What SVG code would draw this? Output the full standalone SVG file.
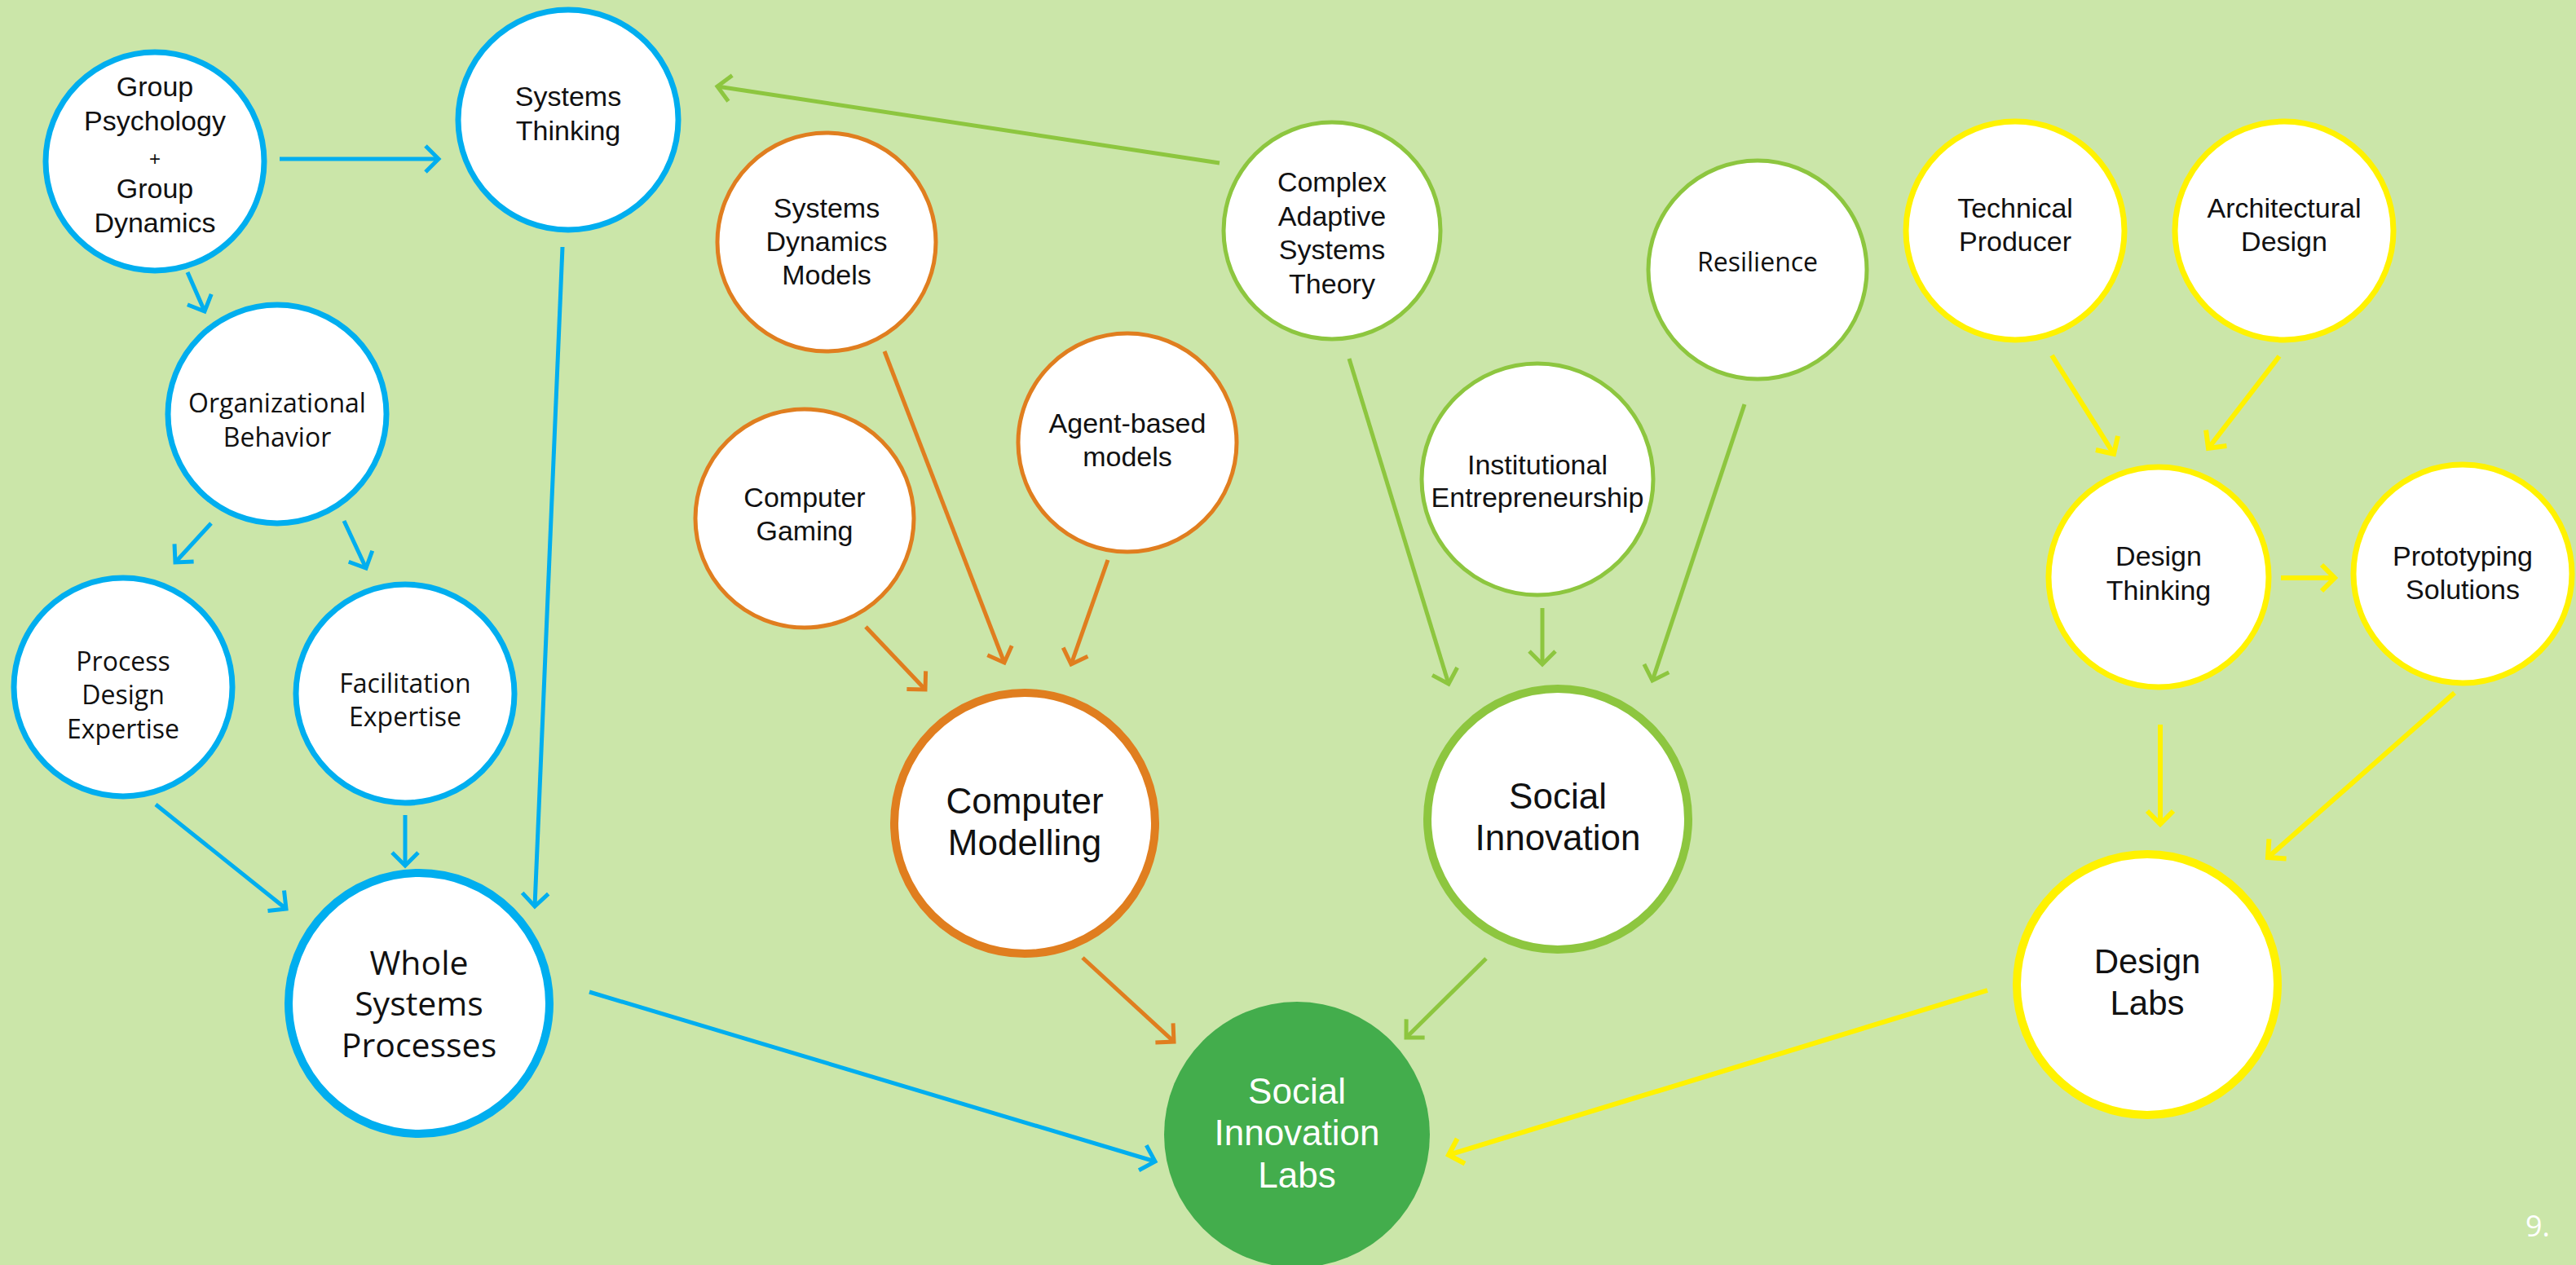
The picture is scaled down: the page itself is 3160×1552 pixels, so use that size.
<svg xmlns="http://www.w3.org/2000/svg" width="3160" height="1552" viewBox="0 0 3160 1552">
<style>
.n{fill:#fff;stroke-width:7}
.nb{fill:#fff;stroke-width:10}
.blue{stroke:#00aeef}
.orange{stroke:#e07e1f}
.green{stroke:#8dc63f}
.yellow{stroke:#fff200}
.t{font-family:"Liberation Sans",Arial,sans-serif;font-size:34px;fill:#111;text-anchor:middle}
.w{font-family:"Open Sans","Liberation Sans",sans-serif;font-size:32px;fill:#111;text-anchor:middle}
.tb{font-family:"Liberation Sans",Arial,sans-serif;font-size:44px;fill:#111;text-anchor:middle}
.wb{font-family:"Open Sans","Liberation Sans",sans-serif;font-size:41px;fill:#111;text-anchor:middle}
.c{fill:none;stroke-width:5}
</style>
<defs>
<marker id="mb" markerUnits="userSpaceOnUse" viewBox="-20 -20 40 40" markerWidth="40" markerHeight="40" refX="0" refY="0" orient="auto" overflow="visible"><path d="M-16,-16 L0,0 L-16,16" fill="none" stroke="#00aeef" stroke-width="5"/></marker>
<marker id="mo" markerUnits="userSpaceOnUse" viewBox="-20 -20 40 40" markerWidth="40" markerHeight="40" refX="0" refY="0" orient="auto" overflow="visible"><path d="M-16,-16 L0,0 L-16,16" fill="none" stroke="#e07e1f" stroke-width="5"/></marker>
<marker id="mg" markerUnits="userSpaceOnUse" viewBox="-20 -20 40 40" markerWidth="40" markerHeight="40" refX="0" refY="0" orient="auto" overflow="visible"><path d="M-16,-16 L0,0 L-16,16" fill="none" stroke="#8dc63f" stroke-width="5"/></marker>
<marker id="my" markerUnits="userSpaceOnUse" viewBox="-20 -20 40 40" markerWidth="40" markerHeight="40" refX="0" refY="0" orient="auto" overflow="visible"><path d="M-16,-16 L0,0 L-16,16" fill="none" stroke="#fff200" stroke-width="6"/></marker>
</defs>
<rect width="3160" height="1552" fill="#cbe6a9"/>

<g id="connectors">
<g class="blue" marker-end="url(#mb)">
<path class="c" d="M343,195 L538,195"/>
<path class="c" d="M230,334 L251,382"/>
<path class="c" d="M259,642 L215,690"/>
<path class="c" d="M422,639 L449,697"/>
<path class="c" d="M191,987 L351,1115"/>
<path class="c" d="M497,1000 L497,1062"/>
<path class="c" d="M690,303 L656,1112"/>
<path class="c" d="M723,1217 L1417,1425"/>
</g>
<g class="orange" marker-end="url(#mo)">
<path class="c" d="M1085,431 L1232,813"/>
<path class="c" d="M1062,769 L1135,846"/>
<path class="c" d="M1359,687 L1314,815"/>
<path class="c" d="M1328,1175 L1440,1278"/>
</g>
<g class="green" marker-end="url(#mg)">
<path class="c" d="M1496,200 L880,106"/>
<path class="c" d="M1655,440 L1777,839"/>
<path class="c" d="M1892,746 L1892,815"/>
<path class="c" d="M2140,496 L2027,835"/>
<path class="c" d="M1823,1176 L1725,1273"/>
</g>
<g class="yellow" marker-end="url(#my)">
<path class="c" style="stroke-width:6" d="M2517,436 L2593,557"/>
<path class="c" style="stroke-width:6" d="M2796,437 L2709,550"/>
<path class="c" style="stroke-width:6" d="M2798,709 L2864,709"/>
<path class="c" style="stroke-width:6" d="M2650,889 L2650,1011"/>
<path class="c" style="stroke-width:6" d="M3011,850 L2782,1052"/>
<path class="c" style="stroke-width:6" d="M2438,1215 L1777,1417"/>
</g>
</g>

<g id="group-psychology">
<circle class="n blue" cx="190" cy="198" r="134"/>
<text class="t"><tspan x="190" y="118">Group</tspan><tspan x="190" y="160">Psychology</tspan><tspan x="190" y="203" style="font-size:24px">+</tspan><tspan x="190" y="243">Group</tspan><tspan x="190" y="285">Dynamics</tspan></text>
</g>
<g id="systems-thinking">
<circle class="n blue" cx="697" cy="147" r="135"/>
<text class="t"><tspan x="697" y="130">Systems</tspan><tspan x="697" y="172">Thinking</tspan></text>
</g>
<g id="organizational-behavior">
<circle class="n blue" cx="340" cy="508" r="134"/>
<text class="w"><tspan x="340" y="506">Organizational</tspan><tspan x="340" y="548">Behavior</tspan></text>
</g>
<g id="process-design-expertise">
<circle class="n blue" cx="151" cy="843" r="134"/>
<text class="w"><tspan x="151" y="823">Process</tspan><tspan x="151" y="864">Design</tspan><tspan x="151" y="906">Expertise</tspan></text>
</g>
<g id="facilitation-expertise">
<circle class="n blue" cx="497" cy="851" r="134"/>
<text class="w"><tspan x="497" y="850">Facilitation</tspan><tspan x="497" y="891">Expertise</tspan></text>
</g>
<g id="whole-systems-processes">
<circle class="nb blue" cx="514" cy="1231" r="160"/>
<text class="wb"><tspan x="514" y="1196">Whole</tspan><tspan x="514" y="1246">Systems</tspan><tspan x="514" y="1297">Processes</tspan></text>
</g>

<g id="systems-dynamics-models">
<circle class="n orange" style="stroke-width:5" cx="1014" cy="297" r="134"/>
<text class="t"><tspan x="1014" y="267">Systems</tspan><tspan x="1014" y="308">Dynamics</tspan><tspan x="1014" y="349">Models</tspan></text>
</g>
<g id="computer-gaming">
<circle class="n orange" style="stroke-width:5" cx="987" cy="636" r="134"/>
<text class="t"><tspan x="987" y="622">Computer</tspan><tspan x="987" y="663">Gaming</tspan></text>
</g>
<g id="agent-based-models">
<circle class="n orange" style="stroke-width:5" cx="1383" cy="543" r="134"/>
<text class="t"><tspan x="1383" y="531">Agent-based</tspan><tspan x="1383" y="572">models</tspan></text>
</g>
<g id="computer-modelling">
<circle class="nb orange" cx="1257" cy="1010" r="160"/>
<text class="tb"><tspan x="1257" y="998">Computer</tspan><tspan x="1257" y="1049">Modelling</tspan></text>
</g>

<g id="complex-adaptive-systems-theory">
<circle class="n green" style="stroke-width:5" cx="1634" cy="283" r="133"/>
<text class="t"><tspan x="1634" y="235">Complex</tspan><tspan x="1634" y="277">Adaptive</tspan><tspan x="1634" y="318">Systems</tspan><tspan x="1634" y="360">Theory</tspan></text>
</g>
<g id="resilience">
<circle class="n green" style="stroke-width:5" cx="2156" cy="331" r="134"/>
<text class="w"><tspan x="2156" y="333">Resilience</tspan></text>
</g>
<g id="institutional-entrepreneurship">
<circle class="n green" style="stroke-width:5" cx="1886" cy="588" r="142"/>
<text class="t"><tspan x="1886" y="582">Institutional</tspan><tspan x="1886" y="622">Entrepreneurship</tspan></text>
</g>
<g id="social-innovation">
<circle class="nb green" cx="1911" cy="1005" r="160"/>
<text class="tb"><tspan x="1911" y="992">Social</tspan><tspan x="1911" y="1043">Innovation</tspan></text>
</g>

<g id="technical-producer">
<circle class="n yellow" cx="2472" cy="283" r="134"/>
<text class="t"><tspan x="2472" y="267">Technical</tspan><tspan x="2472" y="308">Producer</tspan></text>
</g>
<g id="architectural-design">
<circle class="n yellow" cx="2802" cy="283" r="134"/>
<text class="t"><tspan x="2802" y="267">Architectural</tspan><tspan x="2802" y="308">Design</tspan></text>
</g>
<g id="design-thinking">
<circle class="n yellow" cx="2648" cy="708" r="135"/>
<text class="t"><tspan x="2648" y="694">Design</tspan><tspan x="2648" y="736">Thinking</tspan></text>
</g>
<g id="prototyping-solutions">
<circle class="n yellow" cx="3021" cy="704" r="134"/>
<text class="t"><tspan x="3021" y="694">Prototyping</tspan><tspan x="3021" y="735">Solutions</tspan></text>
</g>
<g id="design-labs">
<circle class="nb yellow" cx="2634" cy="1208" r="160"/>
<text class="tb" style="font-size:42px"><tspan x="2634" y="1194">Design</tspan><tspan x="2634" y="1245">Labs</tspan></text>
</g>

<g id="social-innovation-labs">
<circle cx="1591" cy="1392" r="163" fill="#43ad4c"/>
<text class="tb" style="fill:#fff;font-size:44px"><tspan x="1591" y="1354">Social</tspan><tspan x="1591" y="1405">Innovation</tspan><tspan x="1591" y="1457">Labs</tspan></text>
</g>

<text x="3098" y="1517" style="font-family:'Open Sans','Liberation Sans',sans-serif;font-size:36px;fill:#fff">9.</text>
</svg>
